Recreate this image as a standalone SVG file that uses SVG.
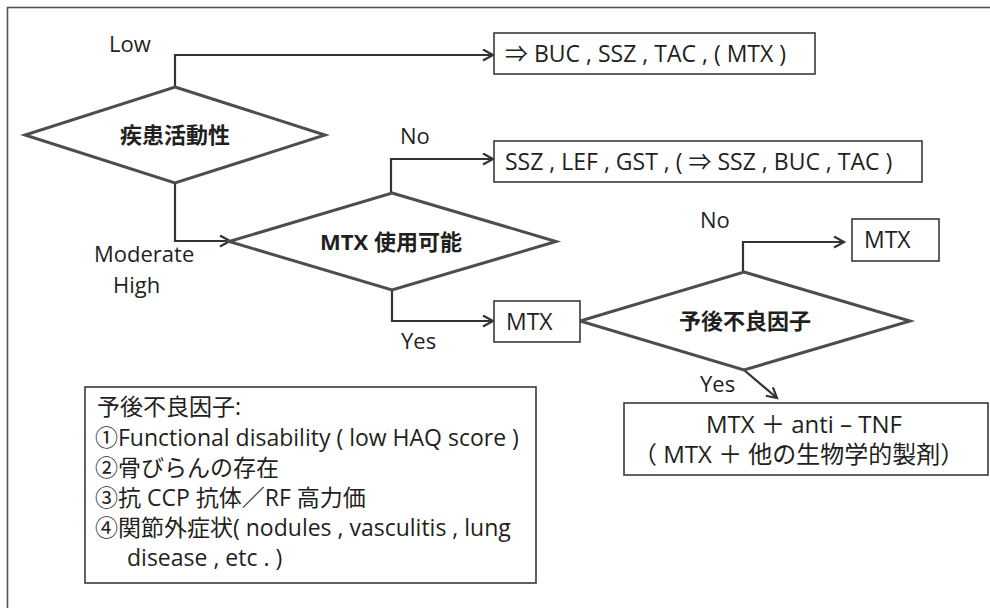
<svg xmlns="http://www.w3.org/2000/svg" width="990" height="608" viewBox="0 0 990 608">
  <defs>
    <style>
      text { font-family: "Open Sans", "Noto Sans CJK JP", sans-serif; fill: #231f20; }
      .lbl { font-size: 22px; }
      .box { fill: #ffffff; stroke: #3a3a3a; stroke-width: 1.6; }
      .dia { fill: #ffffff; stroke: #4d4d4d; stroke-width: 3; stroke-linejoin: miter; }
      .dtxt { font-size: 22px; font-weight: bold; text-anchor: middle; }
      .btxt { font-size: 23px; }
      .conn { fill: none; stroke: #333333; stroke-width: 2.2; marker-end: url(#arr); }
      .note { font-size: 23px; }
    </style>
    <marker id="arr" markerUnits="userSpaceOnUse" markerWidth="14" markerHeight="14" refX="11" refY="6.5" orient="auto">
      <path d="M1,1 L11,6.5 L1,12" fill="none" stroke="#333333" stroke-width="2.2"/>
    </marker>
  </defs>

  <rect x="7.5" y="7.5" width="1000" height="700" fill="#ffffff" stroke="#555555" stroke-width="1.6"/>

  <g id="connectors">
    <polyline class="conn" points="175,87 175,55 493,55"/>
    <polyline class="conn" points="175,183 175,241 230,241"/>
    <polyline class="conn" points="391,193 391,159 493,159"/>
    <polyline class="conn" points="392,290 392,321 493,321"/>
    <polyline class="conn" points="743,272 743,242 844,242"/>
    <line class="conn" x1="744" y1="370" x2="777" y2="398"/>
  </g>

  <g id="labels">
    <text class="lbl" x="109" y="52">Low</text>
    <text class="lbl" x="94" y="262">Moderate</text>
    <text class="lbl" x="113" y="293">High</text>
    <text class="lbl" x="400" y="144">No</text>
    <text class="lbl" x="401" y="349">Yes</text>
    <text class="lbl" x="700" y="228">No</text>
    <text class="lbl" x="700" y="392">Yes</text>
  </g>

  <g id="d1">
    <polygon class="dia" points="175,87 325,135 175,183 25,135"/>
    <text class="dtxt" x="175" y="143">疾患活動性</text>
  </g>

  <g id="d2">
    <polygon class="dia" points="392,193 556,241.5 392,290 229,241.5"/>
    <text class="dtxt" x="391" y="250">MTX 使用可能</text>
  </g>

  <g id="d3">
    <polygon class="dia" points="744,272 910,321 744,370 580,321"/>
    <text class="dtxt" x="745" y="329">予後不良因子</text>
  </g>

  <g id="box-low">
    <rect class="box" x="494" y="33" width="321" height="41"/>
    <text class="btxt" x="505" y="62">⇒ BUC , SSZ , TAC , ( MTX )</text>
  </g>

  <g id="box-no-mtx">
    <rect class="box" x="494" y="141" width="428" height="41"/>
    <text class="btxt" x="505" y="170">SSZ , LEF , GST , ( ⇒ SSZ , BUC , TAC )</text>
  </g>

  <g id="box-mtx">
    <rect class="box" x="494" y="301" width="86" height="41"/>
    <text class="btxt" x="506" y="330">MTX</text>
  </g>

  <g id="box-mtx2">
    <rect class="box" x="852" y="219" width="87" height="42"/>
    <text class="btxt" x="864" y="248">MTX</text>
  </g>

  <g id="box-combo">
    <rect class="box" x="624" y="403" width="364" height="72"/>
    <text class="btxt" x="804" y="433" text-anchor="middle" style="font-size:24px">MTX ＋ anti – TNF</text>
    <text class="btxt" x="633" y="463" style="font-size:24px">（ MTX ＋ 他の生物学的製剤）</text>
  </g>

  <g id="note">
    <rect class="box" x="85" y="387" width="451" height="196"/>
    <text class="note" x="97" y="415">予後不良因子:</text>
    <text class="note" x="95" y="446">①Functional disability ( low HAQ score )</text>
    <text class="note" x="95" y="476">②骨びらんの存在</text>
    <text class="note" x="95" y="506">③抗 CCP 抗体／RF 高力価</text>
    <text class="note" x="95" y="536">④関節外症状( nodules , vasculitis , lung</text>
    <text class="note" x="127" y="566">disease , etc . )</text>
  </g>
</svg>
